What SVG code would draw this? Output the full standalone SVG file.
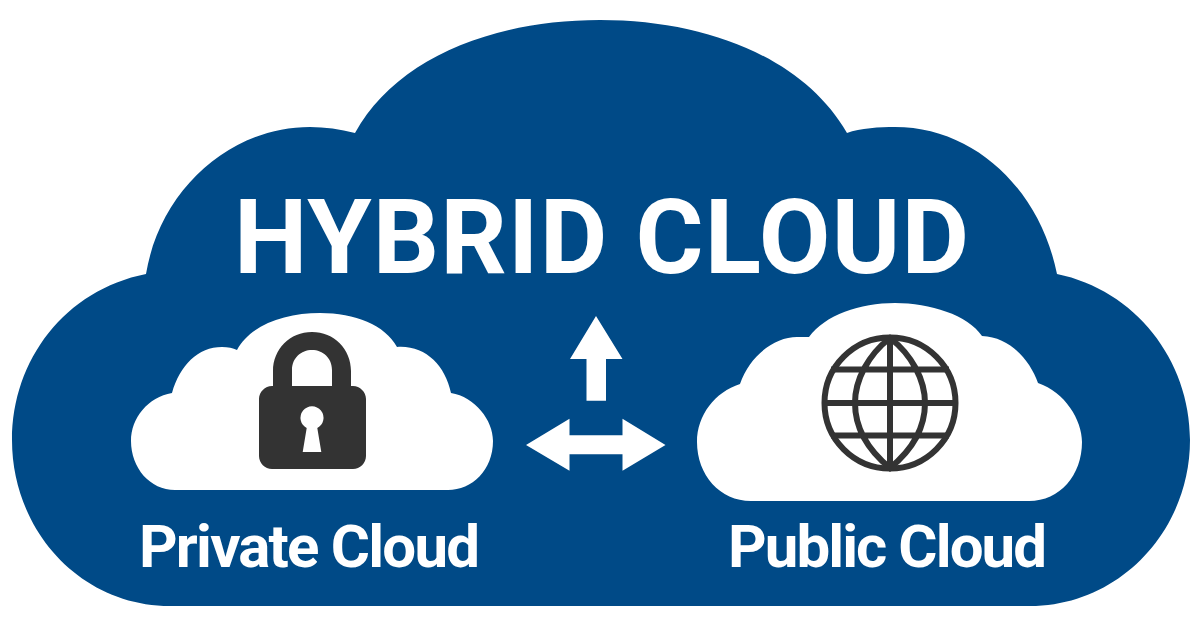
<svg xmlns="http://www.w3.org/2000/svg" width="1200" height="627" viewBox="0 0 1200 627">
<style>
.t{font-family:"Roboto","Liberation Sans",sans-serif;font-weight:700;fill:#fff}
.w{fill:#fff}
.d{fill:#333}
.g{fill:none;stroke:#333;stroke-width:6}
</style>
<rect width="1200" height="627" fill="#fff"/>
<g id="hybrid-cloud">
<path fill="#004a87" d="M146,274C160,190 230,127 310,127C325,127 340,129 355,133C395,60 490,20 600,20C710,20 805,60 847,133C860,128 880,127 895,127C975,127 1040,190 1057,274C1135,290 1190,360 1190,440C1190,530 1120,606 1030,606L170,606C80,606 12,530 12,440C12,360 65,290 146,274Z"/>
<text class="t" x="234" y="273" font-size="104" textLength="735" lengthAdjust="spacing">HYBRID CLOUD</text>
</g>
<g id="private-cloud">
<path class="w" d="M172,393C180,365 198,347 222,347C228,347 233,348 237,350C250,325 285,313 320,313C355,313 385,325 397,347C425,345 445,365 451,393C475,397 493,420 493,441C493,470 472,490 448,490L175,490C150,490 131,468 131,441C131,418 148,397 172,393Z"/>
<path class="d" fill-rule="evenodd" d="M273,386V371C273,349 290,332 312,332C334,332 351,349 351,371V386H353C360,386 366,392 366,399V456C366,463 360,469 353,469H272C265,469 259,463 259,456V399C259,392 265,386 272,386ZM292,386H332V370C332,358 323,350 312,350C301,350 292,358 292,370Z"/>
<path class="w" d="M306.700,428A11.500,11.500 0 1 1 317.300,428L321.300,452H302.700Z"/>
<text class="t" x="139" y="567" font-size="60" textLength="341" lengthAdjust="spacing">Private Cloud</text>
</g>
<g id="public-cloud">
<path class="w" d="M740,384C750,355 775,337 797,337Q803,337 809,337C825,315 860,303 895,303C930,303 968,315 982,336C1010,337 1030,360 1038,383C1065,392 1082,420 1082,442C1082,475 1060,501 1029,501L751,501C720,501 697,475 697,442C697,415 715,392 740,384Z"/>
<ellipse class="g" cx="890" cy="403" rx="65.500" ry="65.500"/>
<path class="g" d="M890,338C868,355 855,380 855,403C855,428 868,450 890,468C912,450 925,428 925,403C925,380 912,355 890,338ZM890,338V468M831,369.500H949M825,403H955M831,435.500H949"/>
<text class="t" x="728" y="567" font-size="60" textLength="319" lengthAdjust="spacing">Public Cloud</text>
</g>
<g id="connectors">
<polygon class="w" points="596,316 622.500,359 606,359 606,400.700 586.500,400.700 586.500,359 570,359"/>
<polygon class="w" points="526,445 569.500,418.700 569.500,435.300 622.500,435.300 622.500,418.700 665.500,445 622.500,470.700 622.500,454.300 569.500,454.300 569.500,470.700"/>
</g>
</svg>
